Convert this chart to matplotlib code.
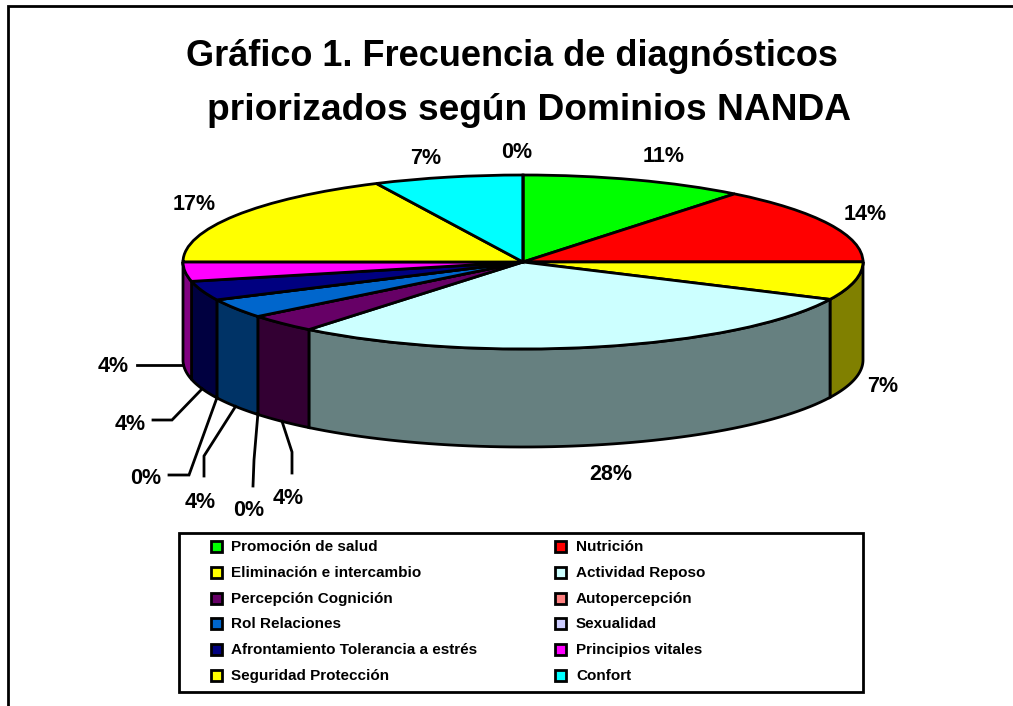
import numpy as np
import matplotlib
matplotlib.use('Agg')
import matplotlib.pyplot as plt
from matplotlib.colors import to_rgb
from matplotlib.patches import Rectangle, Polygon

plt.rcParams['font.family'] = ['Liberation Sans', 'DejaVu Sans']
plt.rcParams['font.weight'] = 'bold'

title_lines = ['Gráfico 1. Frecuencia de diagnósticos', 'priorizados según Dominios NANDA']
legend_names = ['Promoción de salud', 'Nutrición', 'Eliminación e intercambio', 'Actividad Reposo',
                'Percepción Cognición', 'Autopercepción', 'Rol Relaciones', 'Sexualidad',
                'Afrontamiento Tolerancia a estrés', 'Principios vitales',
                'Seguridad Protección', 'Confort']
# the last slice has no legend entry, it only shows up as the 0% at the top
values = [10.7, 14.3, 7.1, 28.8, 3.4, 0, 3.6, 0, 3.6, 3.6, 17.9, 7.1, 0]
pct_labels = ['11%', '14%', '7%', '28%', '4%', '0%', '4%', '0%', '4%', '4%', '17%', '7%', '0%']
colors = ['#00FF00', '#FF0000', '#FFFF00', '#CCFFFF', '#660066', '#FF8080', '#0066CC', '#CCCCFF',
          '#000080', '#FF00FF', '#FFFF00', '#00FFFF', '#800000']

W, H = 1013, 706
cx, cy, rx, ry, depth = 523, 262, 340, 87, 98

fig = plt.figure(figsize=(W / 100, H / 100), dpi=100, facecolor='white')

# pie axes box is the ellipse of the top face
pie_ax = fig.add_axes([(cx - rx) / W, 1 - (cy + ry) / H, 2 * rx / W, 2 * ry / H])
wedges, _ = pie_ax.pie(values, colors=colors, startangle=90, counterclock=False, radius=1,
                       wedgeprops={'edgecolor': 'black', 'linewidth': 2, 'zorder': 3})
pie_ax.set_aspect('auto')
pie_ax.set_xlim(-1, 1)
pie_ax.set_ylim(-1, 1)
for w in wedges:
    w.set_clip_on(False)

# side wall of the front half
d = depth / ry
edges = np.cumsum([0] + values) / sum(values) * 360
for i, col in enumerate(colors):
    t1, t2 = max(edges[i], 90), min(edges[i + 1], 270)
    if t2 <= t1:
        continue
    t = np.radians(np.linspace(t1, t2, 60))
    xs, ys = np.sin(t), np.cos(t)
    pts = np.r_[np.c_[xs, ys], np.c_[xs[::-1], ys[::-1] - d]]
    side = tuple(c * 0.5 for c in to_rgb(col))
    pie_ax.add_patch(Polygon(pts, closed=True, facecolor=side, edgecolor='black', linewidth=2,
                             zorder=2, clip_on=False))

# overlay in pixel coordinates for text and legend
ax = fig.add_axes([0, 0, 1, 1], facecolor='none')
ax.set_xlim(0, W)
ax.set_ylim(H, 0)
ax.axis('off')

ax.plot([8, 8, W], [H, 6, 6], color='black', lw=2, solid_joinstyle='miter')
ax.text(512, 57, title_lines[0], ha='center', va='center', fontsize=26, color='black')
ax.text(529, 110, title_lines[1], ha='center', va='center', fontsize=26.7, color='black')

label_pos = [(664, 157), (865, 215), (883, 386), (611, 474), (288, 498), (249, 511), (200, 502),
             (146, 479), (130, 424), (113, 367), (194, 205), (426, 158), (517, 153)]
for s, (x, y) in zip(pct_labels, label_pos):
    ax.text(x, y, s, ha='center', va='center', fontsize=15.5, color='black')

# leader lines start on the lower rim at the slice's middle
leader_ends = {4: [(292, 452), (292, 473)], 5: [(254, 460), (253, 486)], 6: [(204, 456), (204, 476)],
               7: [(189, 475), (169, 475)], 8: [(172, 420), (153, 420)], 9: [(137, 365)]}
for i, rest in leader_ends.items():
    mid = np.radians((edges[i] + edges[i + 1]) / 2)
    start = (cx + rx * np.sin(mid), cy - ry * np.cos(mid) + depth)
    if i == 9:  # this one leaves the wall level with its label
        start = (cx - rx, rest[0][1])
    px, py = zip(start, *rest)
    ax.plot(px, py, color='black', lw=2, solid_joinstyle='miter')

# legend
ax.add_patch(Rectangle((179, 533), 684, 159, facecolor='white', edgecolor='black', lw=2))
rows = [547, 573, 599, 624, 650, 676]
for i, name in enumerate(legend_names):
    y = rows[i // 2]
    sx, tx = (211, 231) if i % 2 == 0 else (555, 576)
    ax.add_patch(Rectangle((sx, y - 6), 11, 11, facecolor=colors[i], edgecolor='black', lw=2))
    ax.text(tx, y, name, ha='left', va='center', fontsize=11, color='black')

fig.savefig('out.png', dpi=100)
